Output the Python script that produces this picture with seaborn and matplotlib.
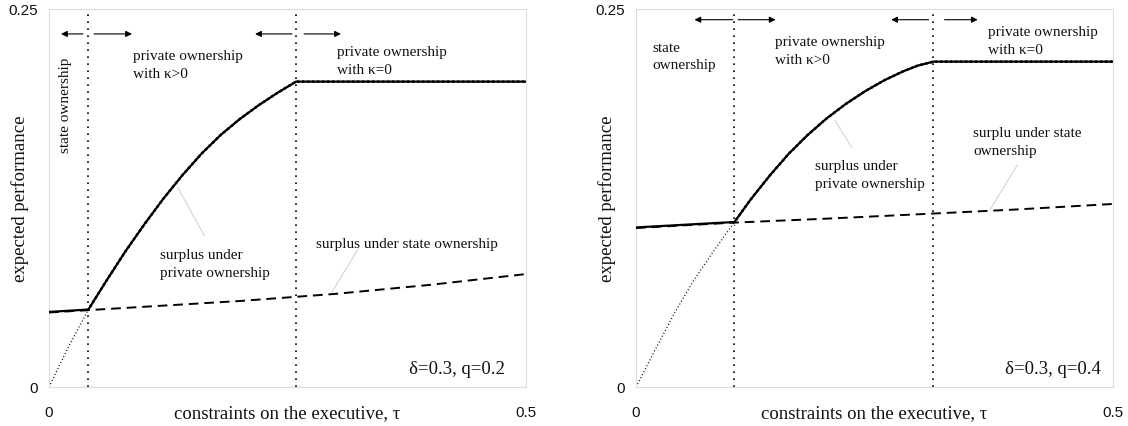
import numpy as np
import matplotlib
matplotlib.use("Agg")
import matplotlib.pyplot as plt
import seaborn as sns

# ---------------- data ----------------
tau_state = [0.0, 0.1, 0.2, 0.3, 0.4, 0.5]

# left panel: delta=0.3, q=0.2
tau_priv_L = [0.0, 0.02, 0.0412, 0.06, 0.08, 0.10, 0.12, 0.14, 0.16, 0.18,
              0.20, 0.22, 0.24, 0.259, 0.5]
priv_L = [0.0, 0.026, 0.0511, 0.0700, 0.0895, 0.1075, 0.1245, 0.1400, 0.1542,
          0.1665, 0.1770, 0.1862, 0.1945, 0.2017, 0.2017]
state_L = [0.0492, 0.0530, 0.0568, 0.0615, 0.0675, 0.0746]
bounds_L = [0.0412, 0.259]

# right panel: delta=0.3, q=0.4
tau_priv_R = [0.0, 0.02, 0.04, 0.06, 0.08, 0.103, 0.12, 0.14, 0.16, 0.18,
              0.20, 0.22, 0.24, 0.26, 0.28, 0.295, 0.3116, 0.5]
priv_R = [0.0, 0.0245, 0.0484, 0.0700, 0.0885, 0.1088, 0.1237, 0.1395, 0.1540,
          0.1665, 0.1775, 0.1870, 0.1953, 0.2025, 0.2085, 0.2122, 0.2149, 0.2149]
state_R = [0.1050, 0.1085, 0.1112, 0.1142, 0.1173, 0.1209]
bounds_R = [0.103, 0.3116]

x_ticks = [0, 0.5]
x_ticklabels = ["0", "0.5"]
y_ticks = [0, 0.25]
y_ticklabels = ["0", "0.25"]

xlabel = "constraints on the executive, τ"
ylabel = "expected performance"

# annotations: (text, x, y, ha, rotation, fontsize)
texts_L = [
    ("state ownership", 0.0168, 0.187, "center", 90, 11),
    ("private ownership\nwith κ>0", 0.088, 0.213, "left", 0, 11),
    ("private ownership\nwith κ=0", 0.302, 0.2157, "left", 0, 11),
    ("surplus under\nprivate ownership", 0.1163, 0.0817, "left", 0, 11),
    ("surplus under state ownership", 0.280, 0.0946, "left", 0, 11),
    ("δ=0.3, q=0.2", 0.478, 0.012, "right", 0, 13.5),
]
texts_R = [
    ("state\nownership", 0.0171, 0.2187, "left", 0, 11),
    ("private ownership\nwith κ>0", 0.1453, 0.2224, "left", 0, 11),
    ("private ownership\nwith κ=0", 0.3687, 0.2288, "left", 0, 11),
    ("surplus under\nprivate ownership", 0.1876, 0.1404, "left", 0, 11),
    ("surplu under state\nownership", 0.3536, 0.1622, "left", 0, 11),
    ("δ=0.3, q=0.4", 0.4874, 0.012, "right", 0, 13.5),
]
leaders_L = [((0.1631, 0.0997), (0.1349, 0.1318)), ((0.3242, 0.0912), (0.2963, 0.0625))]
leaders_R = [((0.2261, 0.1583), (0.2086, 0.1759)), ((0.3997, 0.1466), (0.3711, 0.1171))]

arrow_y_L = 0.2332
arrows_L = [(0.0356, 0.0126), (0.0472, 0.087), (0.2547, 0.216), (0.2673, 0.306)]
arrow_y_R = 0.2426
arrows_R = [(0.1014, 0.0613), (0.107, 0.1463), (0.3068, 0.2675), (0.3234, 0.3582)]

# ---------------- styling ----------------
sns.set_theme(style="white")
plt.rcParams['font.family'] = ['Liberation Serif', 'DejaVu Serif']

W, H = 1128, 427
fig = plt.figure(figsize=(W / 100, H / 100), dpi=100)
axL = fig.add_axes([49 / W, 39 / H, 477 / W, 378.5 / H])
axR = fig.add_axes([636 / W, 39 / H, 477 / W, 378.5 / H])


def draw(ax, tau_priv, priv, state, bounds, texts, leaders, arrow_y, arrows):
    tp = np.array(tau_priv)
    pv = np.array(priv)
    b1 = bounds[0]
    # vertical regime boundaries
    for b in bounds:
        ax.axvline(b, color="black", lw=1.2, linestyle=(0, (1, 3.2)), zorder=1)
    # private surplus: dotted below the threshold, solid above
    sns.lineplot(x=tp, y=pv, ax=ax, color="black", lw=1.8,
                 linestyle=(0, (1, 1)), legend=False, zorder=2)
    m = tp <= b1 + 1e-9
    sns.lineplot(x=tp[m], y=pv[m], ax=ax, color="white", lw=2.4,
                 legend=False, zorder=2.1)
    sns.lineplot(x=tp[m], y=pv[m], ax=ax, color="black", lw=0.8,
                 linestyle=(0, (1, 2)), legend=False, zorder=2.2)
    m2 = tp >= b1 - 1e-9
    sns.lineplot(x=tp[m2], y=pv[m2], ax=ax, color="black", lw=1.6,
                 legend=False, zorder=3)
    # state surplus (dashed)
    sns.lineplot(x=tau_state, y=state, ax=ax, color="black", lw=1.4,
                 linestyle=(0, (5, 3)), legend=False, zorder=3)
    # equilibrium (solid) in the state ownership region
    xs = np.array([0.0, b1])
    ys = np.interp(xs, tau_state, state)
    sns.lineplot(x=xs, y=ys + 0.0004, ax=ax, color="black", lw=1.6,
                 legend=False, zorder=3)

    for (x0, y0), (x1, y1) in leaders:
        ax.annotate("", xy=(x1, y1), xytext=(x0, y0),
                    arrowprops=dict(arrowstyle="-", color="#c8c8c8", lw=0.6,
                                    shrinkA=0, shrinkB=0), zorder=1)
    for tail, head in arrows:
        ax.annotate("", xy=(head, arrow_y), xytext=(tail, arrow_y),
                    arrowprops=dict(arrowstyle="-|>", color="black", lw=0.8,
                                    mutation_scale=9, shrinkA=0, shrinkB=0),
                    zorder=4)
    for s, x, y, ha, rot, fs in texts:
        ax.text(x, y, s, ha=ha, va="center", rotation=rot, fontsize=fs,
                linespacing=1.45, color="#111111", zorder=5)

    ax.set_xlim(0, 0.5)
    ax.set_ylim(0, 0.25)
    ax.set_xticks(x_ticks)
    ax.set_xticklabels(x_ticklabels, family="Liberation Sans", fontsize=11)
    ax.set_yticks(y_ticks)
    ax.set_yticklabels(y_ticklabels, family="Liberation Sans", fontsize=11)
    ax.tick_params(axis="both", which="both", color="#cccccc", length=6,
                   width=0.8, direction="out", labelcolor="#111111")
    ax.tick_params(axis="x", pad=7)
    ax.tick_params(axis="y", pad=2)
    for sp in ax.spines.values():
        sp.set_visible(True)
        sp.set_color("#dddddd")
        sp.set_linewidth(0.8)
    ax.set_xlabel(xlabel, fontsize=13.5, color="#111111")
    ax.set_ylabel(ylabel, fontsize=13.5, color="#111111")
    ax.xaxis.set_label_coords(0.5, -0.045)
    ax.yaxis.set_label_coords(-0.042, 0.5)


draw(axL, tau_priv_L, priv_L, state_L, bounds_L, texts_L, leaders_L, arrow_y_L, arrows_L)
draw(axR, tau_priv_R, priv_R, state_R, bounds_R, texts_R, leaders_R, arrow_y_R, arrows_R)

fig.savefig("out.png", dpi=100, facecolor="white")
